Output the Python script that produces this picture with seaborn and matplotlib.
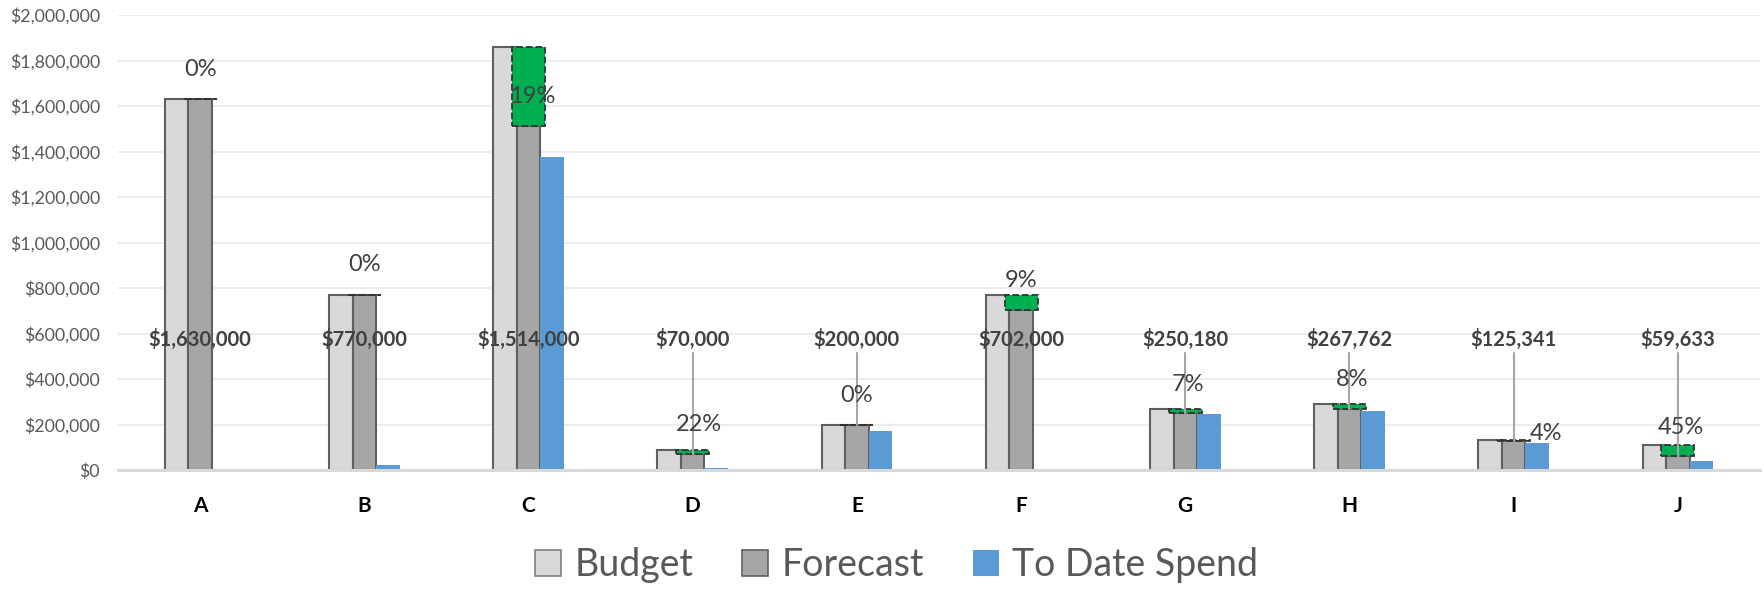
# Budget vs forecast vs to date spend, grouped bars with savings boxes
import pandas as pd
import matplotlib
matplotlib.use('Agg')
import matplotlib.pyplot as plt
from matplotlib.patches import Patch
from matplotlib.ticker import FuncFormatter
import seaborn as sns

# Data
categories = ['A', 'B', 'C', 'D', 'E', 'F', 'G', 'H', 'I', 'J']
budget = [1630000, 770000, 1860000, 90000, 200000, 770000, 269000, 291000, 130000, 108000]
forecast = [1630000, 770000, 1514000, 70000, 200000, 702000, 250180, 267762, 125341, 59633]
to_date = [0, 20000, 1375000, 8000, 170000, 0, 246000, 261000, 120000, 40000]
forecast_labels = ['$1,630,000', '$770,000', '$1,514,000', '$70,000', '$200,000',
                   '$702,000', '$250,180', '$267,762', '$125,341', '$59,633']
pct_labels = ['0%', '0%', '19%', '22%', '0%', '9%', '7%', '8%', '4%', '45%']
series = ['Budget', 'Forecast', 'To Date Spend']

# label nudges (pixels, relative to top of budget bar)
pct_dx = [0, 0, 4, 6, 0, 0, 3, 3, 32, 3]
pct_dy = [30, 30, -50, 25, 29, 14, 24, 24, 7, 18]

colors = ['#D9D9D9', '#A6A6A6', '#5B9BD5']
text_col = '#595959'
label_col = '#404040'

# long format for seaborn
df = pd.DataFrame({
    'cat': categories * 3,
    'series': [s for s in series for _ in categories],
    'value': budget + forecast + to_date,
})

sns.set_style('white')
plt.rcParams['font.family'] = ['Lato', 'DejaVu Sans']

fig = plt.figure(figsize=(17.65, 5.89), dpi=100)
ax = fig.add_axes([118 / 1765, 1 - 470 / 589, (1760 - 118) / 1765, (470 - 15) / 589])

sns.barplot(data=df, x='cat', y='value', hue='series', hue_order=series,
            order=categories, palette=colors, width=0.43, gap=0, saturation=1,
            errorbar=None, legend=False, ax=ax, zorder=2)

# outline the grey bars
for cont in ax.containers[:2]:
    for p in cont:
        p.set_edgecolor('#606060')
        p.set_linewidth(1.5)
for p in ax.containers[2]:
    p.set_linewidth(0)

# green savings boxes between forecast and budget
xs = list(range(len(categories)))
savings = [b - f for b, f in zip(budget, forecast)]
ax.bar(xs, savings, bottom=forecast, width=0.2, color='#00B050',
       edgecolor='#333333', linestyle='--', linewidth=1.3, zorder=3)

# forecast value labels with leader lines
label_y = 575000
for x, f, txt in zip(xs, forecast, forecast_labels):
    ax.text(x, label_y, txt, ha='center', va='center', fontsize=14.5,
            fontweight='bold', color=label_col, zorder=5)
    if f < label_y - 80000:
        ax.plot([x, x], [label_y - 62000, f], color='#A6A6A6', lw=1.5, zorder=4)

# percentage labels
for x, b, txt, dx, dy in zip(xs, budget, pct_labels, pct_dx, pct_dy):
    ax.annotate(txt, (x, b), xytext=(dx, dy), textcoords='offset pixels',
                ha='center', va='center', fontsize=17, color=label_col, zorder=6)

# axes styling
ax.set_xlim(-0.5, len(categories) - 0.5)
ax.set_ylim(0, 2000000)
ax.set_yticks(range(0, 2000001, 200000))
ax.yaxis.set_major_formatter(FuncFormatter(lambda v, _: '${:,.0f}'.format(v)))
ax.set_xlabel('')
ax.set_ylabel('')
ax.yaxis.grid(True, color='#ECECEC', linewidth=1.3)
ax.set_axisbelow(True)
for side in ['top', 'right', 'left']:
    ax.spines[side].set_visible(False)
ax.spines['bottom'].set_color('#D9D9D9')
ax.spines['bottom'].set_linewidth(2.2)
ax.tick_params(axis='y', length=0, pad=13, labelsize=12.8, labelcolor=text_col)
ax.tick_params(axis='x', length=0, pad=19, labelsize=15, labelcolor='black')
for t in ax.get_xticklabels():
    t.set_fontweight('bold')

# legend
handles = [Patch(facecolor=colors[0], edgecolor='#7F7F7F', linewidth=1.2),
           Patch(facecolor=colors[1], edgecolor='#606060', linewidth=1.2),
           Patch(facecolor=colors[2], edgecolor='none')]
fig.legend(handles, series, loc='center', bbox_to_anchor=(0.508, 0.041), ncol=3,
           frameon=False, fontsize=27, labelcolor=text_col, handlelength=0.7,
           handleheight=0.7, handletextpad=0.35, columnspacing=1.3)

plt.savefig('out.png', dpi=100)
